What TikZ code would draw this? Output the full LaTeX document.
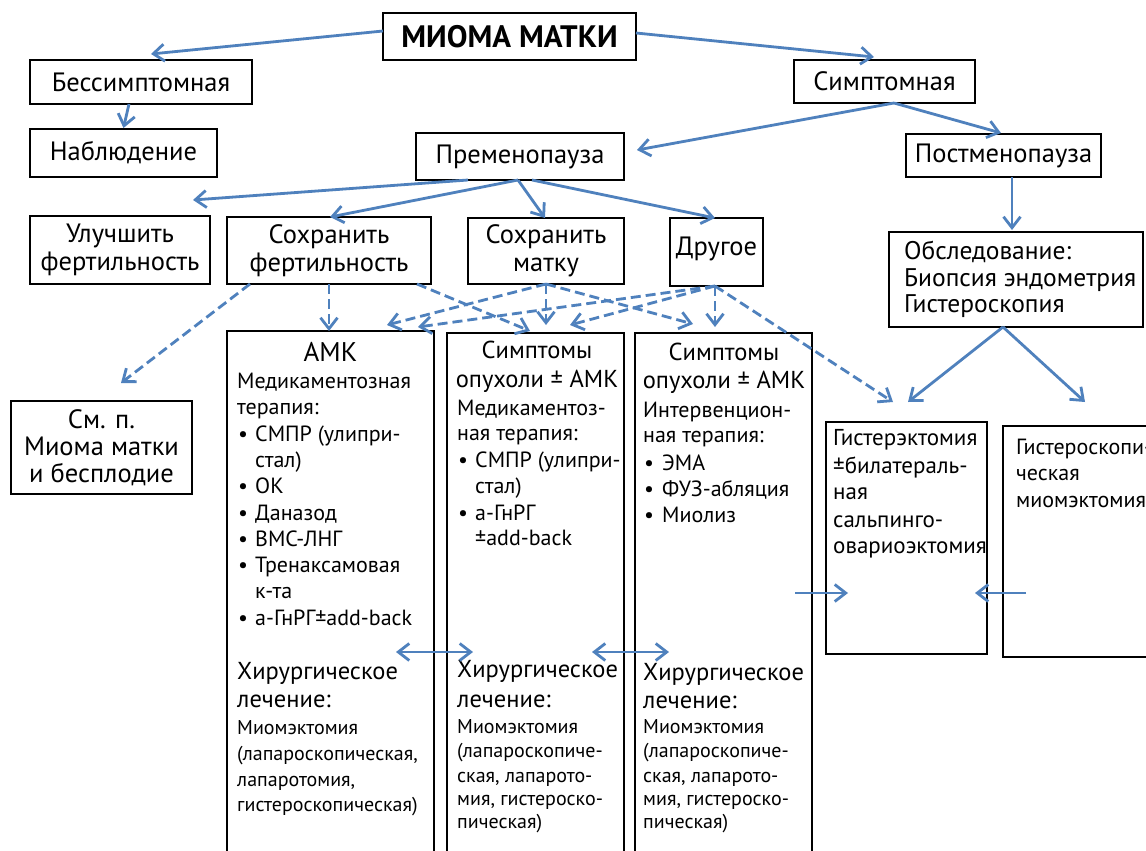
\documentclass[tikz,border=0pt]{standalone}
\usepackage{fontspec}
\setmainfont{PT Sans}
\usetikzlibrary{arrows.meta}
\definecolor{arr}{HTML}{4F81BD}
\tikzset{
 box/.style={draw=black, line width=2pt, inner sep=0pt, outer sep=0pt, align=center, font=\fontsize{26.5}{28}\selectfont},
 tip/.tip={Straight Barb[length=11pt,width=17pt]},
 conn/.style={draw=arr, line width=2.8pt, -tip},
 dconn/.style={conn, dash pattern=on 10pt off 5pt},
 dbl/.style={draw=arr, line width=2.8pt, tip-tip},
 tl/.style={inner sep=0pt, anchor=base west},
 tcc/.style={inner sep=0pt, anchor=base},
 fT/.style={font=\fontsize{26.5}{28}\selectfont},
 fO/.style={font=\fontsize{25.5}{28}\selectfont},
 fK/.style={font=\fontsize{27}{28}\selectfont},
 fB/.style={font=\fontsize{22}{24}\selectfont},
 fG/.style={font=\fontsize{23}{24}\selectfont},
 fC/.style={font=\fontsize{20}{22}\selectfont},
 fH/.style={font=\fontsize{24.5}{26}\selectfont},
}
\begin{document}
\begin{tikzpicture}[x=1pt,y=-1pt]
\useasboundingbox (0,0) rectangle (1146,851);
\clip (0,0) rectangle (1146,851);
\fill[white] (0,0) rectangle (1146,851);

% boxes
\node[box, minimum width=253pt, minimum height=47pt, font=\bfseries\fontsize{31}{32}\selectfont] (title) at (509.5,36.5) {МИОМА МАТКИ};
\node[box, minimum width=222pt, minimum height=44pt] (bes) at (141,82) {Бессимптомная};
\node[box, minimum width=187pt, minimum height=48pt] (nab) at (123.5,153) {Наблюдение};
\node[box, minimum width=181pt, minimum height=43pt] (sym) at (884.5,81.5) {Симптомная};
\node[box, minimum width=208pt, minimum height=47pt] (pre) at (520,156.5) {Пременопауза};
\node[box, minimum width=195pt, minimum height=43pt] (post) at (1003.5,155.5) {Постменопауза};
\node[box, minimum width=180pt, minimum height=68pt] (ulu) at (120,250) {Улучшить\\фертильность};
\node[box, minimum width=204pt, minimum height=67pt] (sfert) at (329,250.5) {Сохранить\\фертильность};
\node[box, minimum width=156pt, minimum height=66pt] (smat) at (546,251) {Сохранить\\матку};
\node[box, minimum width=93pt, minimum height=68pt] (dr) at (716.5,252) {};
\node[box, minimum width=254pt, minimum height=95pt] (obs) at (1016,279.5) {};
\node[box, minimum width=181pt, minimum height=93pt] (smp) at (101.5,447.5) {};
\node[box, minimum width=207pt, minimum height=549pt] (amk) at (330.5,605.5) {};
\node[box, minimum width=177pt, minimum height=547pt] (s1) at (535.5,606.5) {};
\node[box, minimum width=177pt, minimum height=547pt] (s2) at (723.5,606.5) {};
\node[box, minimum width=161pt, minimum height=232pt] (hyst) at (906.5,538) {};
\node[box, minimum width=167pt, minimum height=231pt] (hsc) at (1086.5,541.5) {};

% texts: Другое, обследование, см. п.
\node[tcc, fT] (drT) at (716.5,255) {Другое};
\node[tl, fO] (obs1) at (904,259) {Обследование:};
\node[tl, fO] (obs2) at (904,286) {Биопсия эндометрия};
\node[tl, fO] (obs3) at (904,312) {Гистероскопия};
\node[tcc, fT] (smp1) at (101.5,428) {См. п.};
\node[tcc, fT] (smp2) at (101.5,455) {Миома матки};
\node[tcc, fT] (smp3) at (101.5,482) {и бесплодие};

% АМК column
\node[tcc, fK] (a0) at (330.5,361) {АМК};
\node[tl, fB] (a1) at (237,388) {Медикаментозная};
\node[tl, fB] (a2) at (237,414) {терапия:};
\node[tl, fB] (ab1) at (238,441) {•};
\node[tl, fB] (a3) at (255,441) {СМПР (улипри-};
\node[tl, fB] (a4) at (255,467) {стал)};
\node[tl, fB] (ab2) at (238,493) {•};
\node[tl, fB] (a5) at (255,493) {ОК};
\node[tl, fB] (ab3) at (238,520) {•};
\node[tl, fB] (a6) at (255,520) {Даназод};
\node[tl, fB] (ab4) at (238,546) {•};
\node[tl, fB] (a7) at (255,546) {ВМС-ЛНГ};
\node[tl, fB] (ab5) at (238,572) {•};
\node[tl, fB] (a8) at (255,572) {Тренаксамовая};
\node[tl, fB] (a9) at (255,598) {к-та};
\node[tl, fB] (ab6) at (238,625) {•};
\node[tl, fB] (a10) at (255,625) {а-ГнРГ±add-back};
\node[tl, fH] (a11) at (237,679) {Хирургическое};
\node[tl, fH] (a12) at (237,707) {лечение:};
\node[tl, fC] (a13) at (237,734) {Миомэктомия};
\node[tl, fC] (a14) at (237,760) {(лапароскопическая,};
\node[tl, fC] (a15) at (237,786) {лапаротомия,};
\node[tl, fC] (a16) at (237,811) {гистероскопическая)};

% Симптомы column 1
\node[tcc, fH] (b0) at (537,358) {Симптомы};
\node[tcc, fH] (b1) at (537,387) {опухоли ± АМК};
\node[tl, fB] (b2) at (457,415) {Медикаментоз-};
\node[tl, fB] (b3) at (457,440) {ная терапия:};
\node[tl, fB] (bb1) at (458,467) {•};
\node[tl, fB] (b4) at (475,467) {СМПР (улипри-};
\node[tl, fB] (b5) at (475,493) {стал)};
\node[tl, fB] (bb2) at (458,520) {•};
\node[tl, fB] (b6) at (475,520) {а-ГнРГ};
\node[tl, fB] (b7) at (475,545) {±add-back};
\node[tl, fH] (b8) at (457,677) {Хирургическое};
\node[tl, fH] (b9) at (457,707) {лечение:};
\node[tl, fC] (b10) at (457,733) {Миомэктомия};
\node[tl, fC] (b11) at (457,757) {(лапароскопиче-};
\node[tl, fC] (b12) at (457,782) {ская, лапарото-};
\node[tl, fC] (b13) at (457,805) {мия, гистероско-};
\node[tl, fC] (b14) at (457,828) {пическая)};

% Симптомы column 2
\node[tcc, fH] (c0) at (724,360) {Симптомы};
\node[tcc, fH] (c1) at (724,388) {опухоли ± АМК};
\node[tl, fB] (c2) at (643,417) {Интервенцион-};
\node[tl, fB] (c3) at (643,442) {ная терапия:};
\node[tl, fB] (cb1) at (644,470) {•};
\node[tl, fB] (c4) at (662,470) {ЭМА};
\node[tl, fB] (cb2) at (644,496) {•};
\node[tl, fB] (c5) at (662,496) {ФУЗ-абляция};
\node[tl, fB] (cb3) at (644,522) {•};
\node[tl, fB] (c6) at (662,522) {Миолиз};
\node[tl, fH] (c7) at (643,680) {Хирургическое};
\node[tl, fH] (c8) at (643,708) {лечение:};
\node[tl, fC] (c9) at (643,733) {Миомэктомия};
\node[tl, fC] (c10) at (643,757) {(лапароскопиче-};
\node[tl, fC] (c11) at (643,782) {ская, лапарото-};
\node[tl, fC] (c12) at (643,805) {мия, гистероско-};
\node[tl, fC] (c13) at (643,828) {пическая)};

% Гистерэктомия
\node[tl, fG] (h1) at (833,445) {Гистерэктомия};
\node[tl, fG] (h2) at (833,473) {±билатераль-};
\node[tl, fG] (h3) at (833,499) {ная};
\node[tl, fG] (h4) at (833,527) {сальпинго-};
\node[tl, fG] (h5) at (833,553) {овариоэктомия};
% Гистероскопическая
\node[tl, fB] (g1) at (1016,454) {Гистероскопи-};
\node[tl, fB] (g2) at (1016,480) {ческая};
\node[tl, fB] (g3) at (1016,507) {миомэктомия};

% solid connectors
\draw[conn] ([yshift=5.5pt]title.west) -- ([xshift=10pt,yshift=6pt]bes.north);
\draw[conn] ([yshift=3.5pt]title.east) -- ([xshift=-10.5pt,yshift=3pt]sym.north);
\draw[conn] ([xshift=-12pt]bes.south) -- ([yshift=1pt]nab.north);
\draw[conn] ([xshift=9.5pt]sym.south) -- ([xshift=13pt,yshift=6.5pt]pre.east);
\draw[conn] ([xshift=9.5pt]sym.south) -- ([xshift=-2.5pt,yshift=1pt]post.north);
\draw[conn] ([xshift=8.5pt]post.south) -- ([xshift=-4pt,yshift=2pt]obs.north);
\draw[conn] ([xshift=-52pt]pre.south) -- ([xshift=73pt,yshift=16pt]ulu.north);
\draw[conn] ([xshift=-2pt]pre.south) -- ([xshift=1pt]sfert.north);
\draw[conn] ([xshift=-2pt]pre.south) -- ([xshift=-1pt]smat.north);
\draw[conn] ([xshift=12pt]pre.south) -- ([xshift=-1.5pt]dr.north);
\draw[conn] ([xshift=-13pt]obs.south) -- ([xshift=1.5pt,yshift=20pt]hyst.north);
\draw[conn] ([xshift=-13pt]obs.south) -- ([xshift=-1.5pt,yshift=24pt]hsc.north);
\draw[conn] ([xshift=-17pt,yshift=13.5pt]s2.east) -- ([xshift=22pt,yshift=-55pt]hyst.west);
\draw[conn] ([xshift=23pt,yshift=-51.5pt]hsc.west) -- ([xshift=-12pt,yshift=-55pt]hyst.east);
\draw[dbl] ([xshift=-38pt,yshift=-46.5pt]amk.east) -- ([xshift=26pt,yshift=-45.5pt]s1.west);
\draw[dbl] ([xshift=-32pt,yshift=-45.5pt]s1.east) -- ([xshift=34pt,yshift=-45.5pt]s2.west);

% dashed connectors
\draw[dconn] ([xshift=-79pt]sfert.south) -- ([xshift=19.5pt,yshift=18pt]smp.north);
\draw[dconn] (sfert.south) -- ([xshift=-1.5pt]amk.north);
\draw[dconn] ([xshift=88pt]sfert.south) -- ([xshift=-5.5pt,yshift=2pt]s1.north);
\draw[dconn] (smat.south) -- ([xshift=56.5pt,yshift=6pt]amk.north);
\draw[dconn] (smat.south) -- ([xshift=10.5pt,yshift=8pt]s1.north);
\draw[dconn] (smat.south) -- ([xshift=-30.5pt,yshift=9pt]s2.north);
\draw[dconn] ([xshift=-1.5pt]dr.south) -- ([xshift=87.5pt,yshift=4pt]amk.north);
\draw[dconn] ([xshift=-1.5pt]dr.south) -- ([xshift=34.5pt,yshift=8pt]s1.north);
\draw[dconn] ([xshift=-1.5pt]dr.south) -- ([xshift=-8.5pt,yshift=6pt]s2.north);
\draw[dconn] ([xshift=-1.5pt]dr.south) -- ([xshift=-13.5pt,yshift=20pt]hyst.north);
\end{tikzpicture}
\end{document}
